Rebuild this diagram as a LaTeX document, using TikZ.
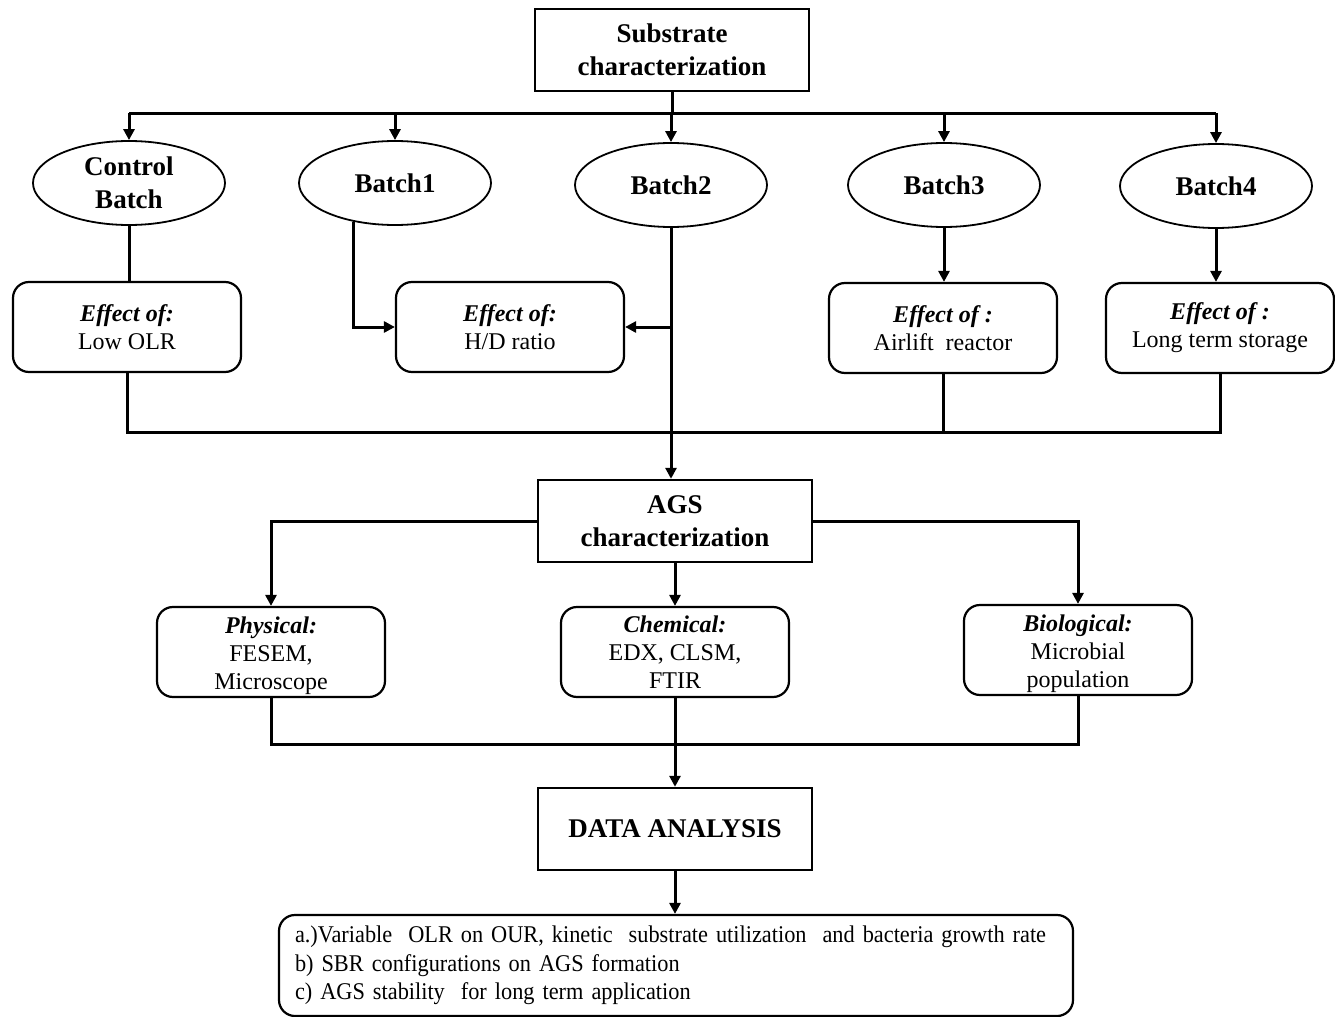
\documentclass[tikz,border=0pt]{standalone}
\usepackage{fontspec}
\setmainfont{Liberation Serif}
\newfontfamily\narrowserif{Liberation Serif}[FakeStretch=0.93]
\usetikzlibrary{arrows.meta,shapes.geometric}
\newcommand{\topstrut}{\rule{0pt}{12pt}}
\begin{document}
\begin{tikzpicture}[x=0.5pt,y=-0.5pt,
 box/.style={draw,line width=1.2pt,minimum width=137pt,minimum height=41pt,align=center,
   font=\fontsize{13.5}{16.5}\selectfont\bfseries,inner sep=0pt},
 oval/.style={draw,ellipse,line width=0.9pt,minimum width=96pt,minimum height=42pt,align=center,
   font=\fontsize{13.5}{16.5}\selectfont\bfseries,inner sep=0pt},
 rbox/.style={draw,rounded corners=8pt,line width=1.1pt,minimum width=114pt,minimum height=45pt,
   align=center,font=\fontsize{12}{14}\selectfont,inner sep=0pt},
 conn/.style={line width=1.5pt},
 arr/.style={conn,-{Triangle[length=5.5pt,width=5.5pt]}}]
\useasboundingbox (0,0) rectangle (1335,1017);

% top level
\node[box] (sub) at (672,50) {Substrate\\characterization};
\node[oval,inner ysep=-3pt] (cb) at (129,183) {Control\\Batch};
\node[oval] (b1) at (395,183) {Batch1};
\node[oval] (b2) at (671,185) {Batch2};
\node[oval] (b3) at (944,185) {Batch3};
\node[oval] (b4) at (1216,186) {Batch4};

% effect boxes
\node[rbox] (e0) at (127,327) {\textbf{\textit{Effect of:}}\\Low OLR};
\node[rbox] (e1) at (510,327) {\textbf{\textit{Effect of:}}\\H/D ratio};
\node[rbox] (e3) at (943,328) {\textbf{\textit{Effect of :}}\\Airlift~ reactor};
\node[rbox] (e4) at (1220,328) {\textbf{\textit{Effect of :}}\\Long term storage};

% AGS level
\node[box] (ags) at (675,521) {AGS\\characterization};
\node[rbox] (phy) at (271,652) {\topstrut\textbf{\textit{Physical:}}\\FESEM,\\Microscope};
\node[rbox] (che) at (675,652) {\textbf{\textit{Chemical:}}\\EDX, CLSM,\\FTIR};
\node[rbox] (bio) at (1078,650) {\topstrut\textbf{\textit{Biological:}}\\Microbial\\population};

% data analysis
\node[box] (da) at (675,829) {DATA ANALYSIS};
\node[draw,rounded corners=8pt,line width=1.1pt,minimum height=50.5pt,text width=381pt,
  inner xsep=8pt,inner ysep=2pt,align=left,font=\narrowserif\fontsize{12}{14.25}\selectfont] (res) at (676,965.5)
  {a.)Variable~ OLR on OUR, kinetic~ substrate utilization~ and bacteria growth rate\\
   b) SBR configurations on AGS formation\\
   c) AGS stability~ for long term application};

% connectors: top distribution
\coordinate (hl) at (0,113);
\draw[conn] (sub.south) -- (sub.south |- hl);
\draw[conn] (cb.north |- hl) -- (b4.north |- hl);
\draw[arr] (cb.north |- hl) -- (cb.north);
\draw[arr] (b1.north |- hl) -- (b1.north);
\draw[arr] (b2.north |- hl) -- (b2.north);
\draw[arr] (b3.north |- hl) -- (b3.north);
\draw[arr] (b4.north |- hl) -- (b4.north);

% batches to effects
\draw[conn] (cb.south) -- (cb.south |- e0.north);
\draw[arr] (b1.223) |- (e1.west);
\draw[arr] (b2.south) -- (b2.south |- ags.north);
\draw[arr] (b2.south |- e1.east) -- (e1.east);
\draw[arr] (b3.south) -- (b3.south |- e3.north);
\draw[arr] (b4.south) -- (b4.south |- e4.north);

% collecting bus
\coordinate (bus1) at (0,432);
\draw[conn] (e0.south) -- (e0.south |- bus1) -- (e4.south |- bus1) -- (e4.south);
\draw[conn] (e3.south) -- (e3.south |- bus1);

% AGS distribution
\draw[arr] (ags.west) -| (phy.north);
\draw[arr] (ags.east) -| (bio.north);
\draw[arr] (ags.south) -- (ags.south |- che.north);

% second bus
\coordinate (bus2) at (0,744);
\draw[conn] (phy.south) -- (phy.south |- bus2) -- (bio.south |- bus2) -- (bio.south);
\draw[arr] (che.south) -- (che.south |- da.north);
\draw[arr] (da.south) -- (da.south |- res.north);
\end{tikzpicture}
\end{document}
